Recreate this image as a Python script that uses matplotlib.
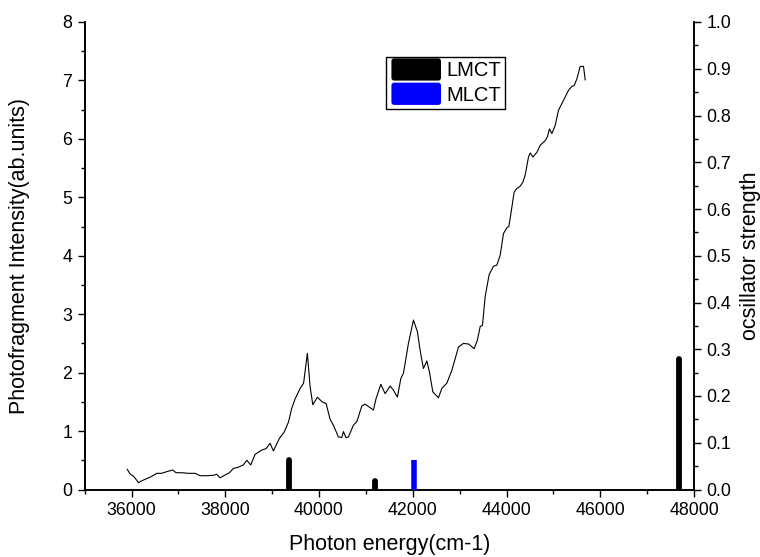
import matplotlib
matplotlib.use("Agg")
import matplotlib.pyplot as plt
from matplotlib.patches import FancyBboxPatch, Patch
from matplotlib.legend_handler import HandlerPatch
from matplotlib.ticker import MultipleLocator

plt.rcParams['font.family'] = ['Liberation Sans', 'DejaVu Sans']

# Photofragment spectrum
energy = [35909, 35967, 36037, 36080, 36148, 36195, 36287, 36394, 36464, 36537,
          36644, 36750, 36878, 36949, 37070, 37211, 37354, 37461, 37604, 37745,
          37818, 37888, 37995, 38087, 38172, 38272, 38385, 38458, 38543, 38635,
          38778, 38870, 38955, 39026, 39154, 39254, 39346, 39418, 39489, 39596,
          39670, 39751, 39809, 39867, 39965, 40065, 40151, 40236, 40306, 40413,
          40486, 40520, 40577, 40627, 40733, 40806, 40913, 40983, 41160, 41218,
          41318, 41410, 41517, 41587, 41672, 41745, 41801, 41907, 42014, 42099,
          42157, 42227, 42300, 42355, 42428, 42548, 42620, 42727, 42834, 42975,
          43081, 43188, 43310, 43380, 43438, 43487, 43544, 43630, 43722, 43794,
          43865, 43935, 44008, 44050, 44093, 44163, 44221, 44291, 44349, 44398,
          44469, 44505, 44563, 44648, 44718, 44825, 44874, 44917, 44968, 45038,
          45109, 45216, 45322, 45395, 45444, 45502, 45572, 45643, 45679]
intensity = [0.345, 0.265, 0.23, 0.19, 0.116, 0.14, 0.174, 0.21, 0.24, 0.277,
             0.277, 0.305, 0.333, 0.287, 0.287, 0.277, 0.277, 0.236, 0.236, 0.243,
             0.26, 0.20, 0.248, 0.287, 0.36, 0.38, 0.42, 0.50, 0.42, 0.60,
             0.675, 0.70, 0.79, 0.66, 0.875, 0.98, 1.15, 1.39, 1.55, 1.73,
             1.82, 2.33, 1.76, 1.45, 1.58, 1.50, 1.47, 1.20, 1.10, 0.90,
             0.89, 0.99, 0.885, 0.90, 1.10, 1.16, 1.43, 1.46, 1.36, 1.56,
             1.80, 1.64, 1.77, 1.70, 1.58, 1.90, 1.99, 2.50, 2.90, 2.70,
             2.38, 2.07, 2.20, 2.01, 1.67, 1.57, 1.73, 1.82, 2.04, 2.44,
             2.50, 2.49, 2.41, 2.56, 2.79, 2.81, 3.30, 3.68, 3.82, 3.84,
             4.01, 4.38, 4.48, 4.50, 4.72, 5.09, 5.15, 5.19, 5.26, 5.38,
             5.69, 5.76, 5.69, 5.77, 5.89, 5.97, 6.04, 6.17, 6.09, 6.23,
             6.49, 6.66, 6.83, 6.90, 6.91, 7.03, 7.24, 7.24, 7.01]

# Calculated transitions (oscillator strengths)
lmct_energy = [39350, 41200, 47680]
lmct_strength = [0.063, 0.018, 0.279]
mlct_energy = [42020]
mlct_strength = [0.063]

W, H = 760, 557
fig = plt.figure(figsize=(W / 100, H / 100), dpi=100)
ax = fig.add_axes([84.7 / W, 1 - 489.5 / H, (694 - 84.7) / W, (489.5 - 22) / H])

ax.plot(energy, intensity, color='black', lw=0.8)
ax.set_xlim(35000, 48000)
ax.set_ylim(0, 8)
ax.xaxis.set_minor_locator(MultipleLocator(1000))
ax.yaxis.set_major_locator(MultipleLocator(1))
ax.yaxis.set_minor_locator(MultipleLocator(0.5))
ax.set_xticks(range(36000, 48001, 2000))
ax.set_xticklabels([str(v) for v in range(36000, 48001, 2000)])
ax.set_xlabel('Photon energy(cm-1)', fontsize=15.5, labelpad=11)
ax.set_ylabel('Photofragment Intensity(ab.units)', fontsize=15.5, labelpad=23)

ax2 = ax.twinx()
ax2.set_ylim(0, 1.0)
ax2.yaxis.set_major_locator(MultipleLocator(0.1))
ax2.yaxis.set_minor_locator(MultipleLocator(0.05))
ax2.set_ylabel('ocsillator strength', fontsize=15.5, labelpad=6)

ax2.vlines(lmct_energy, 0, lmct_strength, colors='black', lw=4.2,
           capstyle='round', zorder=3)
ax2.vlines(mlct_energy, 0, mlct_strength, colors='#0000ff', lw=4.0,
           capstyle='butt', zorder=3)

for a in (ax, ax2):
    a.tick_params(which='major', direction='out', length=5, width=1.0,
                  labelsize=12.8, pad=4)
    a.tick_params(which='minor', direction='out', length=3, width=1.0)
    for s in a.spines.values():
        s.set_linewidth(1.2)
ax.spines['top'].set_visible(False)
ax2.spines['top'].set_visible(False)
ax.tick_params(axis='y', which='both', right=False)


class RoundHandler(HandlerPatch):
    def create_artists(self, legend, orig_handle, xdescent, ydescent,
                       width, height, fontsize, trans):
        p = FancyBboxPatch((-xdescent + 1, -ydescent - 2), width - 2, height + 4,
                           boxstyle='round,pad=0,rounding_size=2',
                           facecolor=orig_handle.get_facecolor(),
                           edgecolor='none', transform=trans)
        return [p]


handles = [Patch(facecolor='black', label='LMCT'),
           Patch(facecolor='#0000ff', label='MLCT')]
leg = ax2.legend(handles=handles, loc='upper left',
                 bbox_to_anchor=(0.4945, 0.925), fontsize=14.5,
                 frameon=True, fancybox=False, edgecolor='black',
                 framealpha=1, borderpad=0.2, handlelength=2.6,
                 handleheight=0.9, handletextpad=0.2, labelspacing=0.25,
                 borderaxespad=0, handler_map={Patch: RoundHandler()})
leg.get_frame().set_linewidth(1.0)

fig.savefig('out.png', dpi=100)
